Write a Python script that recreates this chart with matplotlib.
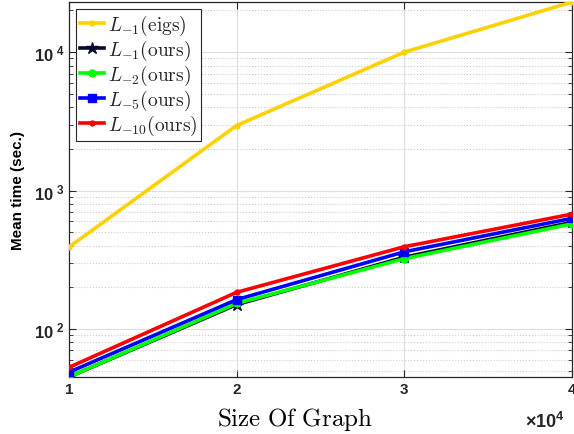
import numpy as np
import matplotlib
matplotlib.use('Agg')
import matplotlib.pyplot as plt
from matplotlib.font_manager import FontProperties
from matplotlib.ticker import ScalarFormatter, LogLocator, NullFormatter, FuncFormatter

# data
graph_size = [10000, 20000, 30000, 40000]
eigs_l1 = [390, 2950, 10000, 23000]
ours_l1 = [45, 150, 330, 590]
ours_l2 = [45, 153, 322, 575]
ours_l5 = [48.7, 163, 361, 630]
ours_l10 = [52.8, 184, 393, 676]

labels = [r'$L_{\mathrm{-}1}\mathrm{(eigs)}$', r'$L_{\mathrm{-}1}\mathrm{(ours)}$',
          r'$L_{\mathrm{-}2}\mathrm{(ours)}$', r'$L_{\mathrm{-}5}\mathrm{(ours)}$',
          r'$L_{\mathrm{-}10}\mathrm{(ours)}$']

plt.rcParams['font.family'] = ['Liberation Sans', 'DejaVu Sans']
plt.rcParams['font.weight'] = 'bold'
plt.rcParams['text.color'] = '#262626'
plt.rcParams['mathtext.fontset'] = 'custom'
plt.rcParams['mathtext.rm'] = 'Liberation Sans:bold'
plt.rcParams['mathtext.bf'] = 'Liberation Sans:bold'
plt.rcParams['mathtext.it'] = 'Liberation Sans:bold'

fig = plt.figure(figsize=(5.74, 4.35), dpi=100)
ax = fig.add_axes([0.120, 0.131, 0.8765, 0.862])

ax.plot(graph_size, eigs_l1, color='#FFD100', lw=2.6, marker='.', ms=7, label=labels[0], zorder=3)
ax.plot(graph_size, ours_l1, color='#0A0A2E', lw=2.6, marker='*', ms=9, label=labels[1], zorder=3)
ax.plot(graph_size, ours_l2, color='#00FF00', lw=2.6, marker='o', ms=5, label=labels[2], zorder=4)
ax.plot(graph_size, ours_l5, color='#0000FF', lw=2.6, marker='s', ms=6, label=labels[3], zorder=5)
ax.plot(graph_size, ours_l10, color='#FF0000', lw=2.6, marker='.', ms=7, label=labels[4], zorder=6)

ax.set_yscale('log')
ax.set_xlim(10000, 40000)
ax.set_ylim(45, 23000)
ax.set_xticks(graph_size)
fmt = ScalarFormatter(useMathText=True)
fmt.set_powerlimits((0, 0))
ax.xaxis.set_major_formatter(fmt)
ax.yaxis.set_major_locator(LogLocator(base=10, numticks=10))
ax.yaxis.set_major_formatter(FuncFormatter(
    lambda v, p: r'$10^{\ %d}$' % int(round(np.log10(v)))))
ax.yaxis.set_minor_locator(LogLocator(base=10, subs=np.arange(2, 10), numticks=20))
ax.yaxis.set_minor_formatter(NullFormatter())

ax.grid(True, which='major', color='#DDDDDD', lw=0.8)
ax.grid(True, which='minor', axis='y', color='#CCCCCC', ls=':', lw=0.8)
ax.set_axisbelow(True)

ax.tick_params(which='both', direction='in', top=True, right=True, colors='#262626',
               labelsize=11)
ax.tick_params(axis='y', which='major', labelsize=12)
ax.tick_params(which='major', length=5)
ax.tick_params(which='minor', length=3)
for s in ax.spines.values():
    s.set_color('#262626')
    s.set_linewidth(0.9)

# push the x10^4 multiplier a bit lower, like the original
ax.xaxis.OFFSETTEXTPAD = 11
off = ax.xaxis.get_offset_text()
off.set_fontsize(13)
off.set_fontweight('bold')
off.set_x(0.985)

ax.set_ylabel('Mean time (sec.)', fontsize=11, fontweight='bold', labelpad=6)
ax.set_xlabel(r'$\mathrm{Size\ Of\ Graph}$', fontsize=18, math_fontfamily='cm')
ax.xaxis.set_label_coords(0.449, -0.075)

leg = ax.legend(loc='upper left', prop=FontProperties(size=14, math_fontfamily='cm'),
                frameon=True, fancybox=False, edgecolor='#262626', framealpha=1,
                handlelength=1.25, handletextpad=0.2, borderpad=0.2, labelspacing=0.05,
                borderaxespad=0.35)
leg.get_frame().set_linewidth(0.8)

fig.savefig('out.png', dpi=100)
